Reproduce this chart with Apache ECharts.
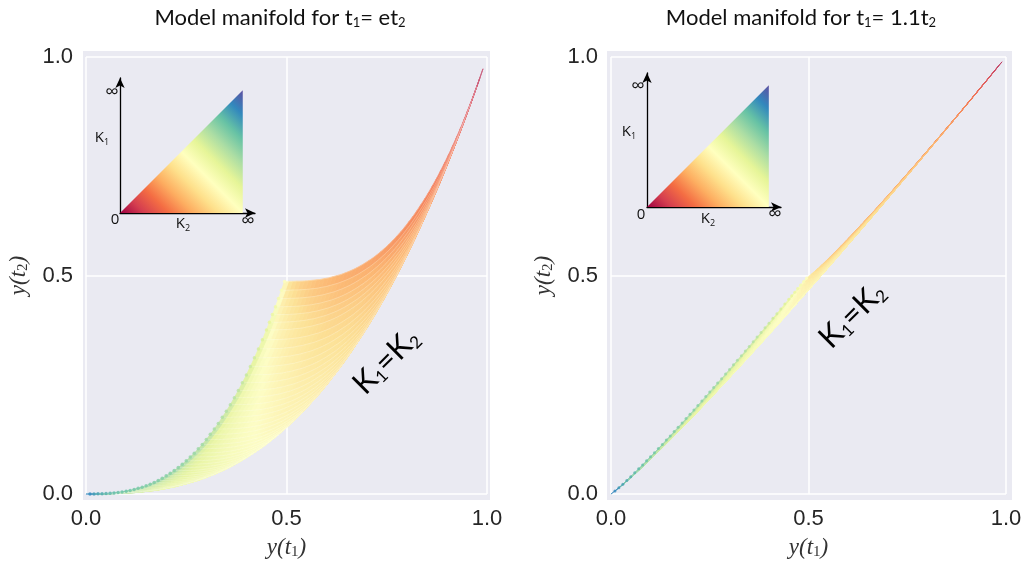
<!DOCTYPE html>
<html>
<head>
<meta charset="utf-8">
<script src="https://cdn.jsdelivr.net/npm/echarts@6/dist/echarts.min.js"></script>
<style>
  html, body { margin: 0; padding: 0; background: #ffffff; }
  #chart { width: 1030px; height: 567px; }
</style>
</head>
<body>
<div id="chart"></div>
<script>
// Decay values along the K1 = K2 edge, slowest decay first: y(t1) for each sample
const edgeX = [0.99, 0.975, 0.96, 0.945, 0.93, 0.915, 0.90,
  0.88, 0.86, 0.84, 0.82, 0.80, 0.78, 0.76, 0.74, 0.72, 0.70,
  0.68, 0.66, 0.64, 0.62, 0.60, 0.58, 0.56, 0.54, 0.52, 0.50,
  0.48, 0.46, 0.44, 0.42, 0.40, 0.38, 0.36, 0.34, 0.32, 0.30,
  0.28, 0.26, 0.24, 0.22, 0.20, 0.18, 0.16, 0.14, 0.12, 0.10,
  0.08, 0.06, 0.04, 0.02, 0.00];
// y(t2) on the same edge when t1 = e*t2
const edgeYLeft = [0.973, 0.933, 0.895, 0.857, 0.821, 0.786, 0.751,
  0.706, 0.664, 0.623, 0.583, 0.545, 0.509, 0.474, 0.441, 0.409, 0.379,
  0.351, 0.323, 0.297, 0.273, 0.249, 0.227, 0.207, 0.187, 0.169, 0.152,
  0.136, 0.121, 0.107, 0.095, 0.083, 0.072, 0.062, 0.053, 0.045, 0.038,
  0.031, 0.026, 0.021, 0.016, 0.013, 0.009, 0.007, 0.005, 0.003, 0.002,
  0.001, 0.001, 0.000, 0.000, 0.000];
// y(t2) on the same edge when t1 = 1.1*t2
const edgeYRight = [0.989, 0.973, 0.956, 0.940, 0.923, 0.907, 0.891,
  0.869, 0.847, 0.825, 0.804, 0.782, 0.761, 0.739, 0.718, 0.697, 0.675,
  0.654, 0.633, 0.612, 0.591, 0.570, 0.549, 0.528, 0.508, 0.487, 0.467,
  0.446, 0.426, 0.405, 0.385, 0.365, 0.345, 0.325, 0.305, 0.286, 0.266,
  0.247, 0.227, 0.208, 0.189, 0.170, 0.152, 0.133, 0.115, 0.097, 0.079,
  0.062, 0.045, 0.029, 0.014, 0.000];
// Compactified rate of each sample (0 = K of 0, 1 = K of infinity), used for colour
const rateLevel = [0.02, 0.06, 0.10, 0.13, 0.16, 0.19, 0.21,
  0.235, 0.26, 0.28, 0.30, 0.315, 0.33, 0.345, 0.36, 0.37, 0.38,
  0.39, 0.40, 0.41, 0.42, 0.43, 0.44, 0.45, 0.46, 0.47, 0.48,
  0.49, 0.50, 0.505, 0.51, 0.515, 0.52, 0.525, 0.53, 0.535, 0.54,
  0.55, 0.56, 0.57, 0.58, 0.59, 0.60, 0.615, 0.63, 0.65, 0.67,
  0.69, 0.72, 0.75, 0.80, 1.00];
const titles = ['{a|Model manifold for t}{s|1}{a|= et}{s|2}', '{a|Model manifold for t}{s|1}{a|= 1.1t}{s|2}'];
// Parameter-space triangle corners (K2, K1), compactified
const triangle = [[0, 0], [1, 0], [1, 1]];

const SPECTRAL = ['#9e0142', '#d53e4f', '#f46d43', '#fdae61', '#fee08b', '#ffffbf',
  '#e6f598', '#abdda4', '#66c2a5', '#3288bd', '#5e4fa2'];
const SPEC_RGB = SPECTRAL.map(h => [1, 3, 5].map(k => parseInt(h.substr(k, 2), 16)));
const PAPER = [240, 240, 240];
function spectral(t, wash) {
  t = Math.max(0, Math.min(1, t));
  const p = t * 10, k = Math.min(9, Math.floor(p)), f = p - k;
  const a = SPEC_RGB[k], b = SPEC_RGB[k + 1];
  const w = wash || 0;
  const c = a.map((v, i) => {
    const base = v + (b[i] - v) * f;
    return Math.round(base + (PAPER[i] - base) * w);
  });
  return 'rgb(' + c.join(',') + ')';
}

// Every model point is the average of two single-rate decays on the K1 = K2 edge;
// cells are spanned by neighbouring sample pairs.
function surfaceCells(ys) {
  const n = edgeX.length, out = [];
  const m = (i, j) => [(edgeX[i] + edgeX[j]) / 2, (ys[i] + ys[j]) / 2];
  for (let i = 0; i < n - 1; i++) {
    for (let j = i; j < n - 1; j++) {
      const a = m(i, j), b = m(i, j + 1), c = m(i + 1, j + 1), d = m(i + 1, j);
      const lv = (rateLevel[i] + rateLevel[i + 1] + rateLevel[j] + rateLevel[j + 1]) / 4;
      out.push([a[0], a[1], b[0], b[1], c[0], c[1], d[0], d[1], lv]);
    }
  }
  return out;
}
// Curves of fixed K1 running out to K2 -> infinity (drawn as a faint hatch)
function fibers(ys) {
  const n = edgeX.length, out = [];
  for (let i = 0; i < n - 1; i++) {
    const coords = [];
    for (let j = i; j < n; j++) coords.push([(edgeX[i] + edgeX[j]) / 2, (ys[i] + ys[j]) / 2]);
    out.push({ coords });
  }
  return out;
}
// K2 -> infinity edge: one decay term vanishes
function farEdge(ys) {
  const n = edgeX.length, out = [];
  for (let i = 0; i < n - 1; i++) {
    out.push([(edgeX[i] + edgeX[n - 1]) / 2, (ys[i] + ys[n - 1]) / 2, (rateLevel[i] + rateLevel[n - 1]) / 2]);
  }
  return out;
}

function renderCell(params, api) {
  const pts = [0, 2, 4, 6].map(k => api.coord([api.value(k), api.value(k + 1)]));
  const col = spectral(api.value(8), 0.12);
  return { type: 'polygon', shape: { points: pts }, style: { fill: col, stroke: col, lineWidth: 0.8 } };
}
function renderTriangle(params, api) {
  const pts = [0, 2, 4].map(k => api.coord([api.value(k), api.value(k + 1)]));
  const stops = SPECTRAL.map((c, k) => ({ offset: k / 10, color: c }));
  return {
    type: 'polygon', shape: { points: pts },
    style: { fill: new echarts.graphic.LinearGradient(0, 1, 1, 0, stops) }
  };
}

const tickFont = { fontFamily: 'Liberation Sans', fontSize: 22, color: '#262626' };
const mathRich = {
  i: { fontFamily: 'Liberation Serif', fontStyle: 'italic', fontSize: 23, color: '#333333' },
  s: { fontFamily: 'Liberation Serif', fontSize: 15, color: '#333333', padding: [10, 0, 0, 0] }
};
function mainX(grid, label) {
  return {
    gridIndex: grid, type: 'value', min: 0, max: 1, interval: 0.5,
    axisLine: { show: false }, axisTick: { show: false },
    axisLabel: Object.assign({ margin: 14, formatter: v => v.toFixed(1) }, tickFont),
    splitLine: { show: true, lineStyle: { color: '#ffffff', width: 1.5 } },
    name: label, nameLocation: 'middle', nameGap: 41,
    nameTextStyle: { rich: mathRich }
  };
}
function mainY(grid, label) {
  return {
    gridIndex: grid, type: 'value', min: 0, max: 1, interval: 0.5,
    axisLine: { show: false }, axisTick: { show: false },
    axisLabel: Object.assign({ margin: 13, formatter: v => v.toFixed(1) }, tickFont),
    splitLine: { show: true, lineStyle: { color: '#ffffff', width: 1.5 } },
    name: label, nameLocation: 'middle', nameGap: 55,
    nameTextStyle: { rich: mathRich }
  };
}
function insetAxis(grid) {
  return {
    gridIndex: grid, type: 'value', min: 0, max: 1.1,
    axisLine: { show: true, onZero: false, symbol: ['none', 'arrow'], symbolSize: [7, 10],
      lineStyle: { color: '#000000', width: 1.3 } },
    axisTick: { show: false }, axisLabel: { show: false }, splitLine: { show: false }
  };
}

function insetText(x, y, text, size) {
  return {
    type: 'text', x, y, z: 10,
    style: {
      text, fontFamily: 'Open Sans', fontSize: size || 15, fill: '#111111',
      align: 'center', verticalAlign: 'middle',
      rich: {
        k: { fontFamily: 'Open Sans', fontSize: 15, fill: '#111111' },
        s: { fontFamily: 'Open Sans', fontSize: 9, fill: '#111111', padding: [8, 0, 0, 0] }
      }
    }
  };
}
function kLabel(x, y) {
  return {
    type: 'text', x, y, z: 10, rotation: Math.PI / 4,
    style: {
      text: '{k|K}{s|1}{k|=K}{s|2}', align: 'center', verticalAlign: 'middle',
      rich: {
        k: { fontFamily: 'Lato', fontSize: 31, fill: '#000000' },
        s: { fontFamily: 'Lato', fontSize: 17, fill: '#000000', padding: [16, 0, 0, 0] }
      }
    }
  };
}
function titleText(x, text) {
  return {
    type: 'text', x, y: 18, z: 10,
    style: {
      text, align: 'center', verticalAlign: 'middle',
      rich: {
        a: { fontFamily: 'Lato', fontSize: 22, fill: '#111111' },
        s: { fontFamily: 'Lato', fontSize: 13, fill: '#111111', padding: [10, 0, 0, 0] }
      }
    }
  };
}

const hatchStyle = { color: '#ffffff', width: 1, opacity: 0.22 };
const chart = echarts.init(document.getElementById('chart'), null, { renderer: 'canvas' });
chart.setOption({
  animation: false,
  backgroundColor: '#ffffff',
  grid: [
    { left: 86, top: 57, width: 401, height: 437 },
    { left: 611, top: 57, width: 395, height: 437 },
    { left: 120, top: 78, width: 135, height: 135 },
    { left: 647, top: 73, width: 134, height: 134 }
  ],
  xAxis: [
    mainX(0, '{i|y(t}{s|1}{i|)}'), mainX(1, '{i|y(t}{s|1}{i|)}'),
    insetAxis(2), insetAxis(3)
  ],
  yAxis: [
    mainY(0, '{i|y(t}{s|2}{i|)}'), mainY(1, '{i|y(t}{s|2}{i|)}'),
    insetAxis(2), insetAxis(3)
  ],
  graphic: [
    { type: 'rect', shape: { x: 83, y: 51, width: 407, height: 449 }, style: { fill: '#eaeaf2' }, z: -1 },
    { type: 'rect', shape: { x: 607, y: 51, width: 405, height: 449 }, style: { fill: '#eaeaf2' }, z: -1 },
    titleText(280, titles[0]), titleText(801, titles[1]),
    kLabel(386, 361), kLabel(852, 315),
    insetText(112, 93, '∞', 19), insetText(102, 138, '{k|K}{s|1}'), insetText(115, 220, '0', 15),
    insetText(183, 224, '{k|K}{s|2}'), insetText(248, 222, '∞', 19),
    insetText(638, 87, '∞', 19), insetText(629, 132, '{k|K}{s|1}'), insetText(641, 215, '0', 15),
    insetText(708, 219, '{k|K}{s|2}'), insetText(775, 215, '∞', 19)
  ],
  series: [
    { type: 'custom', xAxisIndex: 0, yAxisIndex: 0, data: surfaceCells(edgeYLeft), renderItem: renderCell,
      encode: { x: [0, 2, 4, 6], y: [1, 3, 5, 7] }, silent: true, progressive: 0, z: 3 },
    { type: 'lines', coordinateSystem: 'cartesian2d', xAxisIndex: 0, yAxisIndex: 0, polyline: true,
      data: fibers(edgeYLeft), lineStyle: hatchStyle, silent: true, z: 4 },
    { type: 'scatter', xAxisIndex: 0, yAxisIndex: 0, data: farEdge(edgeYLeft), symbolSize: 3.5, silent: true, z: 5,
      itemStyle: { color: p => spectral(p.value[2]) } },
    { type: 'custom', xAxisIndex: 1, yAxisIndex: 1, data: surfaceCells(edgeYRight), renderItem: renderCell,
      encode: { x: [0, 2, 4, 6], y: [1, 3, 5, 7] }, silent: true, progressive: 0, z: 3 },
    { type: 'scatter', xAxisIndex: 1, yAxisIndex: 1, data: farEdge(edgeYRight), symbolSize: 3, silent: true, z: 5,
      itemStyle: { color: p => spectral(p.value[2]) } },
    { type: 'custom', xAxisIndex: 2, yAxisIndex: 2, data: [triangle.flat()], renderItem: renderTriangle,
      encode: { x: [0, 2, 4], y: [1, 3, 5] }, silent: true, z: 3 },
    { type: 'custom', xAxisIndex: 3, yAxisIndex: 3, data: [triangle.flat()], renderItem: renderTriangle,
      encode: { x: [0, 2, 4], y: [1, 3, 5] }, silent: true, z: 3 }
  ]
});
</script>
</body>
</html>
